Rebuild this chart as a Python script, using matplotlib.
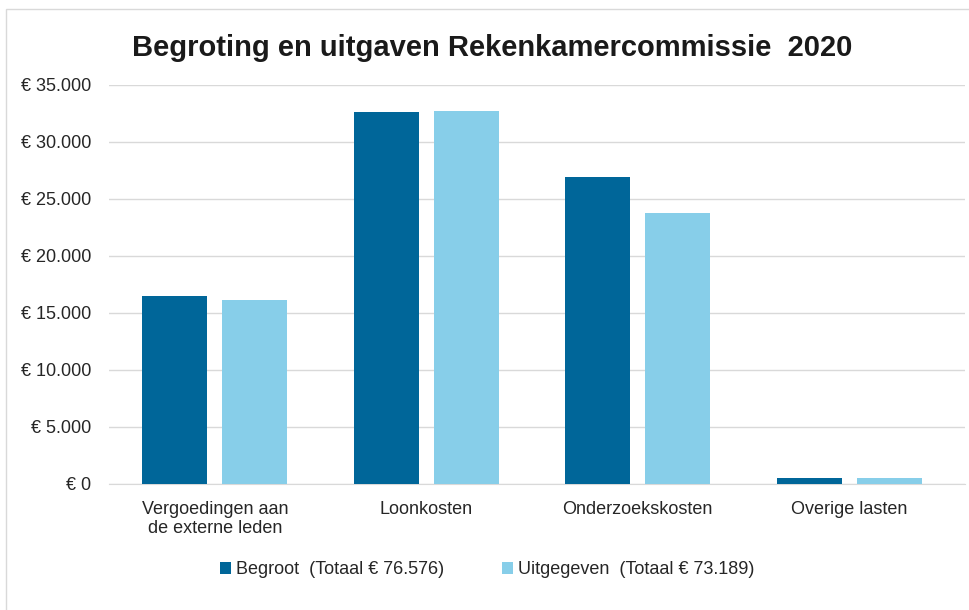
import numpy as np
import matplotlib
matplotlib.use("Agg")
from matplotlib import pyplot as plt
from matplotlib.patches import Rectangle

categories = ["Vergoedingen aan\nde externe leden", "Loonkosten", "Onderzoekskosten", "Overige lasten"]
begroot = [16500, 32600, 26950, 526]
uitgegeven = [16150, 32750, 23750, 539]
series_labels = ["Begroot  (Totaal € 76.576)", "Uitgegeven  (Totaal € 73.189)"]
yticks = [0, 5000, 10000, 15000, 20000, 25000, 30000, 35000]


def euro(v):
    return "€ " + f"{int(v):,}".replace(",", ".")


plt.rcParams["font.family"] = ["Liberation Sans", "DejaVu Sans"]

fig = plt.figure(figsize=(9.7, 6.1), dpi=100)
ax = fig.add_axes([109 / 970, 0.2066, 856 / 970, 0.6541])

# chart border
fig.patches.append(Rectangle((6 / 970, -0.01), 1.0, 1 - 9 / 610 + 0.01, transform=fig.transFigure,
                             fill=False, edgecolor="#d9d9d9", linewidth=1.0))

x = np.arange(len(categories))
w = 0.307
gap = 0.071
ax.bar(x - (w + gap) / 2, begroot, w, color="#006699", label=series_labels[0], zorder=3)
ax.bar(x + (w + gap) / 2, uitgegeven, w, color="#87cee9", label=series_labels[1], zorder=3)

ax.set_xlim(-0.5, -0.5 + 856 / 211.5)
ax.set_ylim(0, 35000)
ax.set_yticks(yticks)
ax.set_yticklabels([euro(v) for v in yticks])
ax.set_xticks(x)
ax.set_xticklabels(categories)
ax.grid(axis="y", color="#d9d9d9", linewidth=1.0, zorder=0)
for s in ["top", "right", "left"]:
    ax.spines[s].set_visible(False)
ax.spines["bottom"].set_color("#d9d9d9")
ax.tick_params(axis="both", length=0, labelsize=13, colors="#262626")
ax.tick_params(axis="x", pad=12)
ax.tick_params(axis="y", pad=13)

fig.text(0.507, 0.922, "Begroting en uitgaven Rekenkamercommissie  2020", ha="center", va="center",
         fontsize=21, fontweight="bold", color="#1a1a1a")

ax.legend(loc="center", bbox_to_anchor=(0.442, -0.215), ncol=2, frameon=False, fontsize=13,
          handlelength=0.6, handleheight=0.6, handletextpad=0.3, columnspacing=3.2,
          labelcolor="#262626")

fig.savefig("out.png", dpi=100)
